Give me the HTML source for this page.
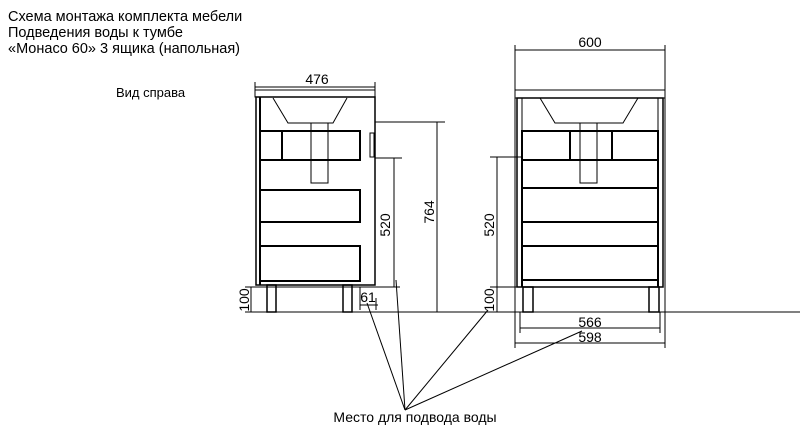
<!DOCTYPE html>
<html><head><meta charset="utf-8"><style>
html,body{margin:0;padding:0;background:#fff;}
svg{display:block;}
text{font-family:"Liberation Sans","DejaVu Sans",sans-serif;fill:#000;}
</style></head><body>
<svg width="800" height="428" viewBox="0 0 800 428" xmlns="http://www.w3.org/2000/svg">
<text x="8" y="21" font-size="14.5">Схема монтажа комплекта мебели</text>
<text x="8" y="37" font-size="14.5">Подведения воды к тумбе</text>
<text x="8" y="53" font-size="14.5">«Монaco 60» 3 ящика (напольная)</text>
<text x="116" y="97" font-size="13">Вид справа</text>
<g stroke="#000" fill="none" stroke-width="1">
<line x1="245" y1="312" x2="800" y2="312"/>
<rect x="255" y="90" width="120" height="7"/>
<rect x="256" y="97" width="119" height="188" stroke-width="1.5"/>
<line x1="260" y1="97" x2="260" y2="285" stroke-width="2"/>
<polyline points="273,98 288,123 333,123 347,98"/>
<rect x="311" y="123" width="17" height="60"/>
<rect x="260" y="131" width="100" height="29" stroke-width="2"/>
<line x1="282" y1="131" x2="282" y2="160" stroke-width="2"/>
<rect x="260" y="190" width="100" height="32" stroke-width="2"/>
<rect x="260" y="246" width="100" height="35" stroke-width="2"/>
<rect x="370" y="133" width="4" height="24"/>
<rect x="267" y="285" width="9" height="27" stroke-width="1.5"/>
<rect x="343" y="285" width="9" height="27" stroke-width="1.5"/>
<line x1="255" y1="87" x2="375" y2="87"/>
<line x1="255" y1="82" x2="255" y2="92"/><line x1="375" y1="82" x2="375" y2="92"/>
<line x1="375" y1="122" x2="445" y2="122"/>
<line x1="437" y1="122" x2="437" y2="312"/>
<line x1="375" y1="158" x2="402" y2="158"/>
<line x1="394" y1="158" x2="394" y2="287"/>
<line x1="245" y1="287" x2="400" y2="287"/>
<line x1="251" y1="287" x2="251" y2="312"/>
<line x1="360" y1="305" x2="378" y2="305"/>
<line x1="360" y1="287" x2="360" y2="310"/><line x1="376" y1="298" x2="376" y2="310"/>
<rect x="515" y="90" width="150" height="8"/>
<rect x="517" y="98" width="146" height="189" stroke-width="1.5"/>
<line x1="522" y1="98" x2="522" y2="287" stroke-width="1"/>
<line x1="658" y1="98" x2="658" y2="287" stroke-width="1"/>
<line x1="522" y1="131" x2="522" y2="287" stroke-width="2"/>
<line x1="658" y1="131" x2="658" y2="287" stroke-width="2"/>
<polyline points="540,98 555,123 623,123 638,98"/>
<rect x="580" y="123" width="17" height="60"/>
<rect x="522" y="131" width="136" height="29" stroke-width="2"/>
<line x1="570" y1="131" x2="570" y2="160" stroke-width="2"/>
<line x1="612" y1="131" x2="612" y2="160" stroke-width="2"/>
<rect x="522" y="188" width="136" height="34" stroke-width="2"/>
<rect x="522" y="246" width="136" height="34" stroke-width="2"/>
<rect x="523" y="287" width="10" height="25" stroke-width="1.5"/>
<rect x="649" y="287" width="10" height="25" stroke-width="1.5"/>
<line x1="515" y1="50" x2="665" y2="50"/>
<line x1="515" y1="45" x2="515" y2="90"/><line x1="665" y1="45" x2="665" y2="90"/>
<line x1="490" y1="157" x2="522" y2="157"/>
<line x1="497" y1="157" x2="497" y2="312"/>
<line x1="490" y1="287" x2="522" y2="287"/>
<line x1="520" y1="312" x2="520" y2="333"/><line x1="660" y1="312" x2="660" y2="333"/>
<line x1="520" y1="328" x2="660" y2="328"/>
<line x1="515" y1="98" x2="515" y2="348"/><line x1="665" y1="98" x2="665" y2="348"/>
<line x1="515" y1="343" x2="665" y2="343"/>
<line x1="405" y1="410" x2="367" y2="303"/>
<line x1="405" y1="410" x2="396" y2="280"/>
<line x1="405" y1="410" x2="488" y2="310"/>
<line x1="405" y1="410" x2="582" y2="331"/>
</g>
<g font-size="14">
<text x="317" y="84" text-anchor="middle">476</text>
<text x="590" y="47" text-anchor="middle">600</text>
<text x="590" y="327" text-anchor="middle">566</text>
<text x="590" y="342" text-anchor="middle">598</text>
<text x="368" y="302" text-anchor="middle">61</text>
<text transform="translate(434,212) rotate(-90)" text-anchor="middle">764</text>
<text transform="translate(390,225) rotate(-90)" text-anchor="middle">520</text>
<text transform="translate(494,225) rotate(-90)" text-anchor="middle">520</text>
<text transform="translate(249,300) rotate(-90)" text-anchor="middle">100</text>
<text transform="translate(494,300) rotate(-90)" text-anchor="middle">100</text>
<text x="415" y="422" text-anchor="middle">Место для подвода воды</text>
</g>
</svg>
</body></html>
